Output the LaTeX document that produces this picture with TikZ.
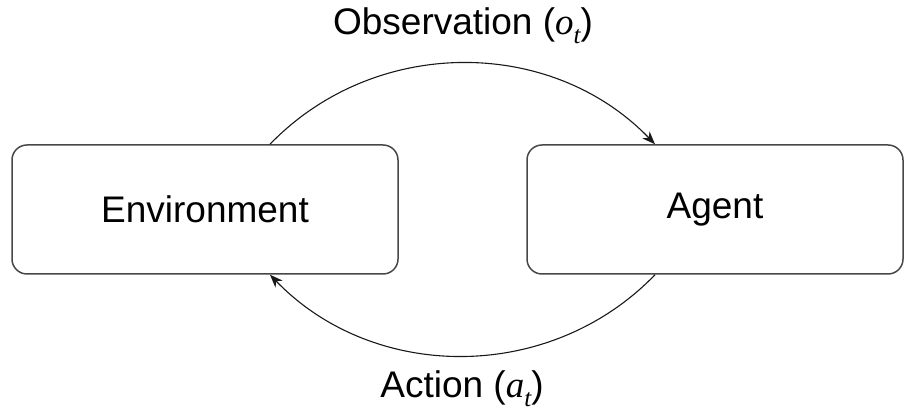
\documentclass[tikz,border=0pt]{standalone}
\usepackage{fontspec}
\setmainfont{Liberation Sans}
\newfontfamily\mathserif{Liberation Serif}
\newcommand{\varsub}[2]{{\mathserif\itshape #1\raisebox{-9pt}{\fontsize{25}{25}\selectfont #2}}}
\usetikzlibrary{arrows.meta}
\begin{document}
\begin{tikzpicture}[x=1pt,y=1pt,
  box/.style={draw=black!72, line width=1.5pt, rounded corners=15pt, minimum height=129pt, inner sep=0pt, font=\fontsize{37}{44}\selectfont},
  arr/.style={draw=black!90, line width=1.1pt, -{Stealth[length=13pt,width=10pt,inset=4pt]}},
  lbl/.style={anchor=base, inner sep=0pt, font=\fontsize{37}{44}\selectfont}]
\useasboundingbox (0,0) rectangle (905,411);
\node[box, minimum width=386pt] (env) at (205,201.5) {Environment};
\node[box, minimum width=376pt] (agent) at (715,201.5) {Agent};
\draw[arr] ([xshift=65pt]env.north) to[out=46,in=134] ([xshift=-60pt]agent.north);
\draw[arr] ([xshift=-60pt]agent.south) to[out=-134,in=-46] ([xshift=65pt]env.south);
\node[lbl] (obs) at (463,376) {Observation (\varsub{o}{t})};
\node[lbl] (act) at (462,13) {Action (\varsub{a}{t})};
\end{tikzpicture}
\end{document}
